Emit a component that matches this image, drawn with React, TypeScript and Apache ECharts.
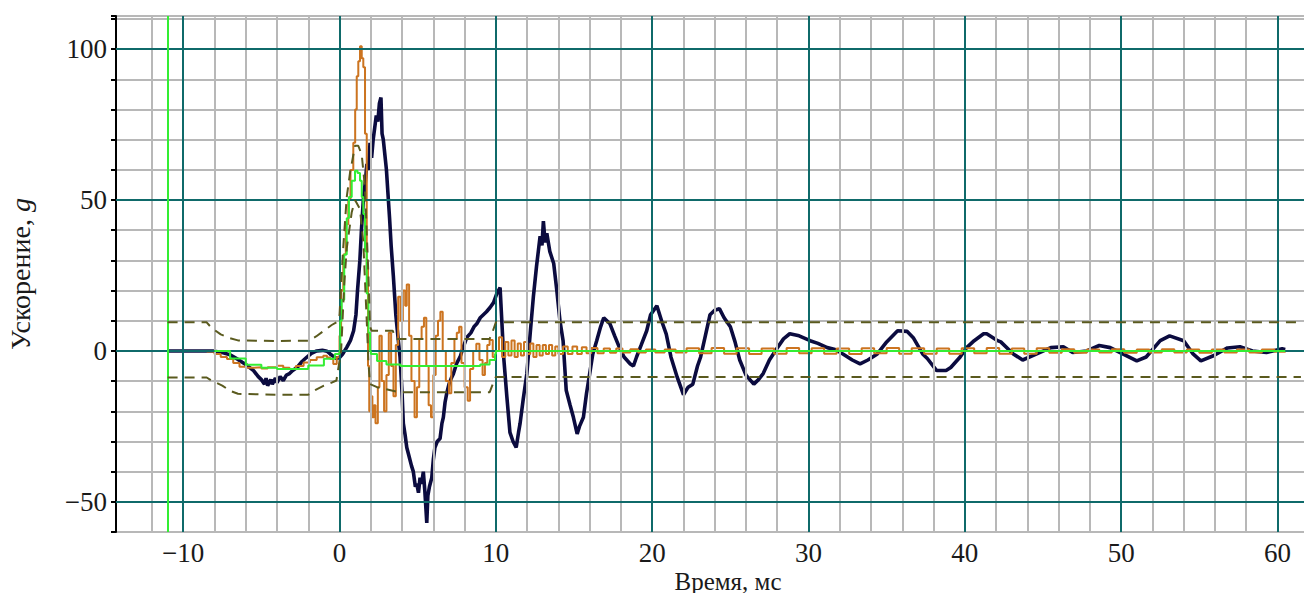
import React, { useEffect, useRef } from "react";
import * as echarts from "echarts";

// ---------- DATA ----------
// x tick labels (ms) and y tick labels (g)
const xLabelValues = [-10, 0, 10, 20, 30, 40, 50, 60];
const yLabelValues = [-50, 0, 50, 100];
const triggerTime = -11; // green vertical marker

// measured acceleration (dark navy)
const measured: [number, number][] = [
  [-11.0, 0], [-8.1, 0], [-7.5, -0.5], [-7.0, -1.3], [-6.5, -2.8], [-6.0, -4.5], [-5.5, -6.5],
  [-5.2, -8.5], [-5.0, -9.5], [-4.8, -11], [-4.7, -9], [-4.6, -11.5], [-4.4, -9.5], [-4.3, -11],
  [-4.1, -9], [-4.0, -10.5], [-3.8, -8.5], [-3.6, -9.8], [-3.4, -8], [-3.2, -7.5], [-3.0, -6.5],
  [-2.7, -5.4], [-2.4, -3.5], [-2.1, -2.1], [-1.8, -0.8], [-1.46, 0], [-1.1, 0.2], [-0.8, -0.1],
  [-0.6, -1], [-0.4, -1.8], [-0.2, -2.5], [0.0, -2.2], [0.2, -1], [0.46, 1.2], [0.7, 3.5],
  [0.9, 6.7], [1.05, 12], [1.15, 20], [1.3, 30], [1.4, 40], [1.52, 50], [1.65, 56], [1.75, 62],
  [1.85, 60], [1.95, 69], [2.05, 64], [2.15, 70], [2.25, 74], [2.35, 78], [2.45, 76], [2.55, 82],
  [2.65, 84], [2.72, 72], [2.8, 70], [2.9, 65], [3.0, 60], [3.1, 52], [3.2, 44], [3.3, 35],
  [3.44, 25], [3.6, 12], [3.75, 4], [3.87, -2], [4.0, -14], [4.08, -24], [4.2, -28], [4.3, -32],
  [4.45, -35], [4.6, -38], [4.72, -40], [4.85, -45], [4.94, -44], [5.05, -47], [5.15, -42],
  [5.25, -44], [5.36, -40], [5.45, -46], [5.5, -50], [5.58, -57], [5.65, -48], [5.75, -45],
  [5.9, -42], [6.0, -36], [6.1, -32], [6.25, -30], [6.43, -29], [6.55, -24], [6.64, -22],
  [6.75, -17], [6.86, -14], [7.0, -11], [7.15, -9], [7.28, -7.6], [7.5, -4], [7.71, -2],
  [7.9, 1], [8.14, 4.5], [8.4, 6], [8.6, 8], [8.78, 9], [9.0, 11], [9.2, 12], [9.4, 13],
  [9.63, 14.4], [9.85, 16], [10.06, 19], [10.27, 21], [10.4, 8], [10.5, -2], [10.7, -15],
  [10.9, -27], [11.1, -30], [11.3, -32], [11.45, -27], [11.55, -24], [11.75, -16], [11.98, -7.6],
  [12.2, 6], [12.4, 18], [12.6, 28], [12.83, 38], [12.95, 35], [13.04, 43], [13.15, 36],
  [13.26, 39], [13.45, 33], [13.7, 29], [13.9, 20], [14.1, 10], [14.3, 3.4], [14.5, -13],
  [14.75, -18], [14.96, -22], [15.2, -27.5], [15.35, -25], [15.6, -22], [15.8, -14], [16.0, -7.6],
  [16.2, -1], [16.45, 3.4], [16.7, 8], [16.9, 11], [17.1, 10], [17.3, 9], [17.6, 5], [17.9, 1.2],
  [18.2, -2], [18.6, -4.3], [18.8, -5], [19.0, -2], [19.3, 2], [19.65, 6.7], [19.9, 12],
  [20.3, 15], [20.6, 10], [20.9, 5.6], [21.2, -2], [21.6, -8.7], [22.0, -14.5], [22.3, -12],
  [22.6, -11], [22.9, -5], [23.1, -2], [23.4, 5], [23.7, 12], [24.0, 13.5], [24.3, 14],
  [24.6, 11], [25.0, 8], [25.3, 3], [25.6, -3], [26.0, -8], [26.5, -11], [26.8, -9.5],
  [27.1, -7.5], [27.5, -3], [28.0, 1], [28.4, 4], [28.8, 5.7], [29.4, 5], [30.1, 3.4],
  [30.6, 2.5], [31.2, 1.1], [31.7, 0.5], [32.2, -1], [32.8, -3], [33.3, -4.3], [33.8, -3],
  [34.4, -1], [35.0, 3], [35.7, 6.7], [36.3, 6.5], [36.7, 4.4], [37.3, -1], [37.6, -2.5],
  [38.2, -6.5], [38.8, -6.5], [39.1, -5.5], [39.7, -2], [40.1, 1], [40.6, 3.4], [41.2, 5.7],
  [41.4, 5.7], [42.1, 3.4], [42.3, 3], [43.1, -1], [43.7, -3], [44.6, -1], [45.5, 1.1],
  [46.3, 1.4], [46.9, -0.5], [47.8, 0], [48.6, 1.8], [49.3, 1.1], [50.1, -1], [51.0, -3.3],
  [51.6, -2], [52.5, 3.4], [53.1, 5], [54.0, 3.4], [54.6, -1], [55.1, -3.3], [55.9, -1.6],
  [56.8, 1], [57.6, 1.4], [58.4, 0], [59.3, -0.5], [60.3, 0.7], [60.5, 0.5],
];

// second channel (orange)
const channelB: [number, number][] = [
  [-8.5, -0.2], [-8.0, -1], [-7.6, -2], [-7.2, -2.7], [-6.8, -4], [-6.4, -5.2], [-6.0, -5.6],
  [-5.5, -5.4], [-5.0, -5.8], [-4.6, -5.4], [-4.0, -4.9], [-3.6, -5.6], [-3.2, -6], [-2.8, -5],
  [-2.3, -3.8], [-1.9, -3], [-1.46, -2.1], [-1.04, -1.6], [-0.8, -2.2], [-0.6, -2.7], [-0.4, -4.3],
  [-0.18, -2.1], [0.0, 5], [0.1, 20], [0.24, 32], [0.4, 42], [0.56, 50], [0.7, 60], [0.88, 69],
  [1.0, 80], [1.1, 91], [1.2, 96], [1.31, 101], [1.42, 97], [1.52, 94], [1.63, 72], [1.74, 28],
  [1.82, -5], [1.9, -20], [2.0, -15], [2.1, -22], [2.2, -18], [2.3, -24], [2.45, -12], [2.55, 5],
  [2.7, -10], [2.85, -20], [3.0, -8], [3.15, 6], [3.3, -5], [3.45, -15], [3.6, 2], [3.75, 18],
  [3.9, 10], [4.05, 20], [4.2, 15], [4.3, 22], [4.45, 5], [4.6, -10], [4.8, -22], [4.95, -12],
  [5.1, 4], [5.25, 8], [5.4, 11], [5.55, -5], [5.7, -18], [5.85, -22], [6.0, -8], [6.15, 5],
  [6.3, 10], [6.45, 13], [6.6, 0], [6.8, -10], [7.0, -14], [7.15, -4], [7.35, 4], [7.5, 6],
  [7.65, 8], [7.8, -4], [8.0, -12], [8.2, -16.5], [8.35, -6], [8.55, 0], [8.75, 2.4], [8.95, -3],
  [9.15, -8], [9.3, -4], [9.45, 2], [9.6, 3.6], [9.8, -2], [10.0, 0], [10.2, 4.5], [10.4, -2],
  [10.6, 3], [10.8, -1.5], [11.0, 3.5], [11.2, -2], [11.4, 2.5], [11.6, -1.5], [11.8, 3],
  [12.0, -1], [12.2, 2.5], [12.4, -2], [12.6, 2], [12.8, -1.5], [13.0, 2], [13.2, -1], [13.4, 2],
  [13.6, -1.5], [13.8, 1.5], [14.0, -1], [14.3, 1.5], [14.6, -1], [14.9, 1.5], [15.2, -1],
  [15.5, 1.2], [15.8, -0.8], [16.1, 1], [16.5, -0.8], [16.9, 0.8], [17.3, -0.6], [17.7, 0.8],
  [18.1, -0.5], [18.6, 0.6], [19.1, -0.5], [19.6, 0.5], [20.2, -0.5], [20.8, 0.5], [21.5, -0.5],
  [22.2, 0.9], [23.0, -0.8], [23.8, 1], [24.6, -0.9], [25.4, 0.9], [26.2, -1], [27.0, 0.8],
  [27.8, -0.9], [28.6, 1], [29.4, -0.8], [30.2, 0.9], [31.0, -0.9], [31.8, 0.8], [32.6, -1],
  [33.4, 0.9], [34.2, -0.8], [35.0, 1], [35.8, -0.9], [36.6, 0.9], [37.4, -0.9], [38.2, 0.8],
  [39.0, -0.9], [39.8, 0.9], [40.6, -0.8], [41.4, 1], [42.2, -0.9], [43.0, 0.8], [43.8, -0.9],
  [44.6, 0.9], [45.4, -0.6], [46.2, 0.6], [47.0, -0.6], [47.8, 0.5], [48.6, -0.5], [49.4, 0.6],
  [50.2, -0.6], [51.0, 0.5], [51.8, -0.5], [52.6, 0.6], [53.4, -0.5], [54.2, 0.5], [55.0, -0.6],
  [55.8, 0.5], [56.6, -0.5], [57.4, 0.5], [58.2, -0.5], [59.0, 0.5], [59.8, -0.3], [60.5, 0.2],
];

// reference (ideal) pulse (green)
const referencePulse: [number, number][] = [
  [-8.0, 0], [-7.0, -2.5], [-6.0, -4.6], [-5.0, -5.6], [-4.0, -6], [-3.0, -6], [-2.0, -4.8],
  [-1.0, -2.6], [-0.3, -1], [0.0, 0], [0.05, 10], [0.14, 17], [0.3, 32], [0.46, 44], [0.6, 51],
  [0.78, 56.4], [0.99, 59.7], [1.15, 59], [1.31, 56.4], [1.42, 51], [1.52, 45.4], [1.63, 33],
  [1.74, 19], [1.85, 6], [1.95, 0], [2.0, -1], [2.4, -3.3], [3.0, -4.5], [3.9, -5], [5.0, -5],
  [6.0, -5], [7.0, -5], [8.0, -5], [9.0, -4.5], [9.6, -3], [9.95, -1], [10.0, 0], [60.5, 0],
];

// tolerance band (dashed olive)
const upperLimit: [number, number][] = [
  [-11, 9.5], [-8.5, 9.5], [-8.2, 7.7], [-7.6, 5.5], [-7.0, 4.2], [-6.5, 3.5], [-4, 3.3],
  [-2, 3.4], [-1.5, 4.8], [-1.0, 6.7], [-0.5, 8.6], [-0.2, 9.5], [0.0, 12], [0.1, 22],
  [0.22, 33], [0.46, 51], [0.67, 59], [0.99, 68], [1.2, 68], [1.42, 65], [1.63, 54], [1.74, 39],
  [1.85, 25], [1.95, 8], [2.05, 6.7], [3.4, 6.7], [3.6, 4], [9.6, 4], [9.8, 6.5], [10.0, 9.5],
  [61.5, 9.5],
];
const lowerLimit: [number, number][] = [
  [-11, -8.8], [-8.5, -8.8], [-8.2, -9.8], [-7.5, -11.5], [-7.0, -13.2], [-6.5, -14.2],
  [-4, -14.5], [-2, -14.5], [-1.5, -12.8], [-1, -11.5], [-0.5, -10.5], [-0.2, -9.8], [0.1, 0],
  [0.3, 22], [0.46, 34], [0.78, 46], [0.99, 50], [1.31, 47], [1.52, 36], [1.74, 10], [1.85, -4],
  [1.95, -11], [2.4, -12], [3.8, -13.7], [9.6, -13.7], [9.8, -11], [10.0, -8.6], [61.5, -8.6],
];

// ---------- STYLE ----------
const FONT = "Liberation Serif";
const TEAL = "#0f6a6a";
const GRAY = "#b8b8b8";
const TEXT = "#1a1a1a";

export default function App() {
  const ref = useRef<HTMLDivElement>(null);

  useEffect(() => {
    if (!ref.current) return;
    const chart = echarts.init(ref.current, undefined, { renderer: "svg" });

    const vMinor: any[] = [];
    for (let t = -12; t <= 62; t += 2) {
      if (t % 10 !== 0) vMinor.push({ xAxis: t, lineStyle: { color: GRAY, width: 2, type: "solid" } });
    }
    const vMajor = xLabelValues.map((t) => ({ xAxis: t, lineStyle: { color: TEAL, width: 2, type: "solid" } }));
    const hMajor = yLabelValues.map((v) => ({ yAxis: v, lineStyle: { color: TEAL, width: 2, type: "solid" } }));
    const trig = [{ xAxis: triggerTime, lineStyle: { color: "#33ee33", width: 2, type: "solid" } }];

    const fmtMinus = (v: number) => (v < 0 ? "\u2212" + Math.abs(v) : String(v));

    chart.setOption({
      animation: false,
      backgroundColor: "#ffffff",
      grid: {
        left: 116,
        top: 16,
        right: 0,
        bottom: 61,
        containLabel: false,
        outerBoundsMode: "none",
      },
      xAxis: {
        type: "value",
        min: -14.3,
        max: 64,
        axisLine: { show: false },
        axisTick: { show: false },
        splitLine: { show: false },
        axisLabel: {
          customValues: xLabelValues,
          formatter: (v: number) => fmtMinus(v),
          fontFamily: FONT,
          fontSize: 27,
          color: TEXT,
          margin: 7,
        },
        name: "Время, мс",
        nameLocation: "middle",
        nameMoveOverlap: false,
        nameGap: 36,
        nameTextStyle: { fontFamily: FONT, fontSize: 25, color: TEXT, verticalAlign: "top", lineHeight: 26 },
      },
      yAxis: {
        type: "value",
        min: -60,
        max: 111,
        interval: 10,
        axisLine: { show: true, onZero: false, lineStyle: { color: "#000", width: 2 } },
        axisTick: { show: true, inside: false, length: 5, lineStyle: { color: "#000", width: 2 } },
        splitLine: { show: true, lineStyle: { color: GRAY, width: 2 } },
        axisLabel: {
          formatter: (v: number) => (yLabelValues.indexOf(v) >= 0 ? fmtMinus(v) : ""),
          fontFamily: FONT,
          fontSize: 27,
          color: TEXT,
          margin: 9,
        },
        name: "Ускорение, {i|g}",
        nameLocation: "middle",
        nameRotate: 90,
        nameGap: 82,
        nameTextStyle: {
          fontFamily: FONT,
          fontSize: 28,
          color: TEXT,
          rich: { i: { fontFamily: FONT, fontSize: 28, fontStyle: "italic", color: TEXT } },
        },
      },
      series: [
        {
          type: "line",
          data: [[-20, -100]],
          showSymbol: false,
          lineStyle: { opacity: 0 },
          silent: true,
          z: 1,
          markLine: {
            silent: true,
            symbol: "none",
            label: { show: false },
            animation: false,
            data: [...vMinor, ...vMajor, ...hMajor, ...trig],
          },
        },
        {
          name: "measured",
          type: "line",
          data: measured,
          showSymbol: false,
          lineStyle: { color: "#0b0b3f", width: 3.6 },
          z: 3,
        },
        {
          name: "channelB",
          type: "line",
          step: "end",
          data: channelB,
          showSymbol: false,
          lineStyle: { color: "#cc7420", width: 2 },
          z: 4,
        },
        {
          name: "reference",
          type: "line",
          step: "end",
          data: referencePulse,
          showSymbol: false,
          lineStyle: { color: "#33ee33", width: 2 },
          z: 5,
        },
        {
          name: "upper",
          type: "line",
          data: upperLimit,
          showSymbol: false,
          lineStyle: { color: "#5a5a1e", width: 2, type: [10, 7] },
          z: 6,
        },
        {
          name: "lower",
          type: "line",
          data: lowerLimit,
          showSymbol: false,
          lineStyle: { color: "#5a5a1e", width: 2, type: [10, 7] },
          z: 6,
        },
      ],
    });

    return () => chart.dispose();
  }, []);

  return (
    <div style={{ position: "fixed", left: 0, top: 0, width: 1304, height: 593, overflow: "hidden", background: "#fff" }}>
      <div ref={ref} style={{ width: 1340, height: 593 }} />
    </div>
  );
}
